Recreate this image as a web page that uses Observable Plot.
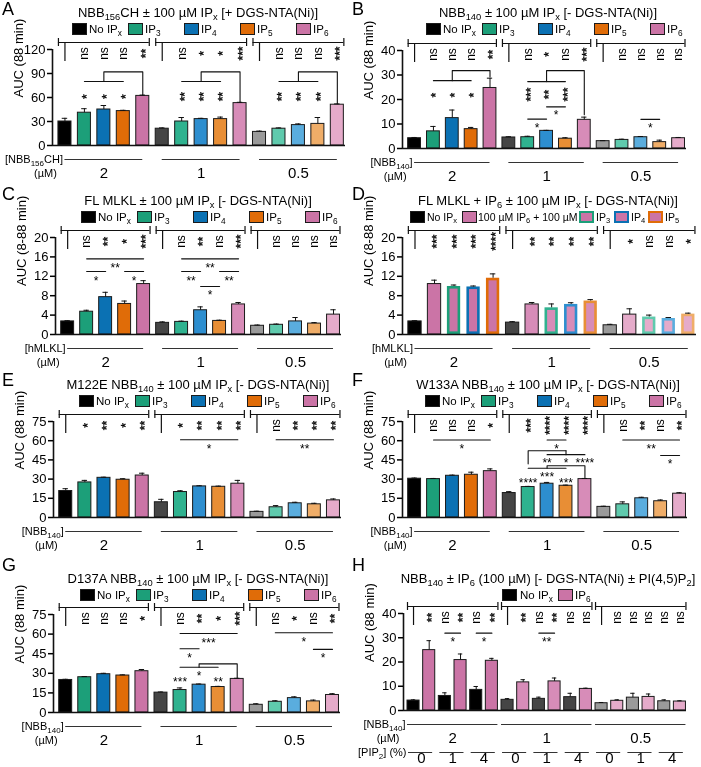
<!DOCTYPE html>
<html>
<head>
<meta charset="utf-8">
<script src="https://cdn.jsdelivr.net/npm/d3@7"></script>
<script src="https://cdn.jsdelivr.net/npm/@observablehq/plot@0.6"></script>
<style>
html,body{margin:0;padding:0;background:#fff;}
body{width:701px;height:767px;position:relative;overflow:hidden;font-family:"Liberation Sans",Arial,Helvetica,sans-serif;color:#000;}
.panel{position:absolute;}
.panel svg{position:absolute;left:0;top:0;overflow:visible;will-change:transform;}
.panel svg text.vs{stroke:#000;stroke-width:0.35px;}
.letter{position:absolute;font-size:18px;line-height:1;}
.title{position:absolute;font-size:13px;line-height:1;white-space:nowrap;transform:translateX(-50%);}
.sw{position:absolute;height:12px;width:15px;box-sizing:border-box;}
.lg{position:absolute;font-size:11.5px;line-height:1;white-space:nowrap;}
sub{font-size:72%;vertical-align:-0.32em;line-height:0;}
</style>
</head>
<body>
<script>
// ---------- shared labels ----------
const concLabels = ["2", "1", "0.5"];
const pipLabels = ["0", "1", "4"];
const ipLegend = ["No IP_{x}", "IP_{3}", "IP_{4}", "IP_{5}", "IP_{6}"];
const yLabel88 = "AUC (88 min)";
const yLabel888 = "AUC (8-88 min)";
const unitLabel = "(µM)";
const pipLabel = "[PIP_{2}] (%)";

// ---------- Panel A ----------
const titleA = "NBB_{156}CH ± 100 µM IP_{x} [+ DGS-NTA(Ni)]";
const concA = "[NBB_{156}CH]";
const yTicksA = [0, 30, 60, 90, 120];
const aucA = [30, 41, 45, 43, 62, 21, 30, 33, 33, 53, 17, 21, 25.5, 27, 51];
const semA = [4, 5, 5, 1, 1, 1, 5, 1, 2.5, 1, 1, 1, 1.5, 8, 1];
const sigA = ["", "ns", "ns", "ns", "**", "", "ns", "*", "*", "***", "", "ns", "ns", "ns", "***"];
const pathsA = [
  [[1, 80], [3, 80]], [[2, 80], [2, 92], [4, 92], [4, 63.5]],
  [[6, 80], [8, 80]], [[7, 80], [7, 92], [9, 92], [9, 54.5]],
  [[11, 80], [13, 80]], [[12, 80], [12, 92], [14, 92], [14, 52.5]]
];
const starsA = [];
const vStarsA = [[1, 61, "*"], [2, 61, "*"], [3, 61, "*"], [6, 61, "**"], [7, 61, "**"], [8, 61, "**"], [11, 61, "**"], [12, 61, "**"], [13, 61, "**"]];

// ---------- Panel B ----------
const titleB = "NBB_{140} ± 100 µM IP_{x} [- DGS-NTA(Ni)]";
const concB = "[NBB_{140}]";
const yTicksB = [0, 10, 20, 30, 40];
const aucB = [4.2, 7, 12.4, 7.9, 24.7, 4.5, 4.6, 7.2, 4, 11.7, 3, 3.5, 4.6, 2.6, 4.2];
const semB = [0.3, 2, 3.3, 0.7, 4, 0.3, 0.4, 0.2, 0.4, 1.1, 0.2, 0.3, 0.3, 0.8, 0.3];
const sigB = ["", "ns", "ns", "ns", "**", "", "ns", "*", "ns", "***", "", "ns", "ns", "ns", "ns"];
const pathsB = [
  [[1, 27.7], [3, 27.7]], [[2, 27.7], [2, 31.8], [4, 31.8], [4, 29.3]],
  [[6, 27.3], [8, 27.3]], [[7, 27.3], [7, 31.8], [9, 31.8], [9, 13.8]],
  [[7, 17], [8, 17]], [[6, 12], [7, 12]], [[12, 11.9], [13, 11.9]]
];
const starsB = [[7.5, 14.7, "*"], [6.5, 9.7, "*"], [12.5, 9.7, "*"]];
const vStarsB = [[1, 21.8, "*"], [2, 21.8, "*"], [3, 21.8, "*"], [6, 22, "***"], [7, 22, "**"], [8, 22, "***"]];

// ---------- Panel C ----------
const titleC = "FL MLKL ± 100 µM IP_{x} [- DGS-NTA(Ni)]";
const concC = "[hMLKL]";
const yTicksC = [0, 4, 8, 12, 16, 20];
const aucC = [2.7, 4.7, 7.7, 6.3, 10.4, 2.4, 2.6, 5.0, 2.8, 6.2, 1.8, 2.0, 2.7, 2.25, 4.1];
const semC = [0.15, 0.3, 1.0, 0.6, 0.7, 0.2, 0.15, 0.7, 0.15, 0.4, 0.15, 0.15, 0.8, 0.2, 1.0];
const sigC = ["", "ns", "**", "*", "***", "", "ns", "**", "ns", "***", "", "ns", "ns", "ns", "ns"];
const pathsC = [
  [[1, 15.6], [4, 15.6]], [[1, 13], [2, 13]], [[3, 13], [4, 13]],
  [[6, 15.6], [9, 15.6]], [[6, 13], [7, 13]], [[8, 13], [9, 13]], [[7, 9.9], [8, 9.9]]
];
const starsC = [[2.5, 14.2, "**"], [1.5, 11.7, "*"], [3.5, 11.7, "*"], [7.5, 14.2, "**"], [6.5, 11.7, "**"], [8.5, 11.7, "**"], [7.5, 8.7, "*"]];

// ---------- Panel D ----------
const titleD = "FL MLKL + IP_{6} ± 100 µM IP_{x} [- DGS-NTA(Ni)]";
const concD = "[hMLKL]";
const yTicksD = [0, 4, 8, 12, 16, 20];
const aucD = [2.7, 10.4, 9.9, 9.8, 11.6, 2.45, 6.2, 5.5, 6.2, 6.9, 1.9, 4.1, 3.6, 3.3, 4.2];
const semD = [0.15, 0.8, 0.3, 0.2, 0.9, 0.2, 0.4, 0.8, 0.35, 0.3, 0.2, 1.2, 0.4, 0.2, 0.2];
const sigD = ["", "***", "***", "***", "****", "", "**", "**", "**", "**", "", "*", "ns", "ns", "*"];
const legendD = ["No IP_{x}", "100 µM IP_{6} + 100 µM", "IP_{3}", "IP_{4}", "IP_{5}"];

// ---------- Panel E ----------
const titleE = "M122E NBB_{140} ± 100 µM IP_{x} [- DGS-NTA(Ni)]";
const yTicksE = [0, 15, 30, 45, 60, 75];
const aucE = [20.7, 27.4, 31, 29.5, 32.8, 11.9, 19.9, 24.3, 24, 26.4, 4.4, 8, 11.1, 10.3, 13.4];
const semE = [1.8, 1.6, 0.5, 0.8, 1.8, 2.3, 1.0, 0.5, 0.5, 2.6, 0.5, 1.3, 0.8, 0.8, 1.1];
const sigE = ["", "*", "**", "*", "**", "", "*", "**", "**", "**", "", "ns", "**", "**", "**"];
const pathsE = [[[6, 60.8], [9, 60.8]], [[11, 60.8], [14, 60.8]]];
const starsE = [[7.5, 56, "*"], [12.5, 56, "**"]];

// ---------- Panel F ----------
const titleF = "W133A NBB_{140} ± 100 µM IP_{x} [- DGS-NTA(Ni)]";
const yTicksF = [0, 15, 30, 45, 60, 75];
const aucF = [30.3, 30, 32.6, 33.4, 36.2, 19.1, 23.8, 26.4, 24.8, 30, 8.3, 10.3, 15, 12.7, 18.6];
const semF = [0.5, 0.5, 0.5, 2, 1.8, 1.1, 0.5, 1.0, 0.5, 0.5, 0.5, 1.9, 0.8, 1.0, 0.8];
const sigF = ["", "ns", "ns", "ns", "*", "", "***", "****", "****", "****", "", "ns", "**", "ns", "**"];
const pathsF = [
  [[1, 60.5], [4, 60.5]], [[7, 60.5], [8, 60.5]],
  [[6, 41.9], [6, 52.2], [8, 52.2]], [[7, 49.1], [9, 49.1]], [[8, 49.1], [8, 52.2]],
  [[6, 38.5], [8, 38.5]], [[7, 38.5], [7, 40.4], [9, 40.4], [9, 31.3]],
  [[11, 60.5], [14, 60.5]], [[13, 48.4], [14, 48.4]]
];
const starsF = [[2.5, 56, "*"], [7.5, 56, "*"], [7, 44.5, "**"], [8, 44.5, "*"], [9, 44.5, "****"],
  [6, 29.5, "****"], [7, 33.6, "***"], [8, 29.5, "***"], [12.5, 56, "**"], [13.5, 43.7, "*"]];

// ---------- Panel G ----------
const titleG = "D137A NBB_{140} ± 100 µM IP_{x} [- DGS-NTA(Ni)]";
const yTicksG = [0, 15, 30, 45, 60, 75];
const aucG = [24.9, 27, 29.3, 28.3, 31.6, 15.2, 17.2, 21.3, 19.5, 25.7, 5.9, 8.2, 11, 8.5, 13.4];
const semG = [0.5, 0.5, 0.7, 0.5, 1.3, 0.5, 1.6, 0.5, 0.5, 0.5, 0.8, 0.8, 1.0, 1.0, 1.0];
const sigG = ["", "ns", "ns", "ns", "*", "", "ns", "**", "*", "***", "", "ns", "*", "ns", "**"];
const pathsG = [
  [[6, 60.5], [9, 60.5]], [[6, 48.8], [7, 48.8]],
  [[6, 34.6], [8, 34.6]], [[7, 34.6], [7, 37.2], [9, 37.2], [9, 26.7]],
  [[11, 61], [14, 61]], [[13, 48.3], [14, 48.3]]
];
const starsG = [[7.5, 55.7, "***"], [6.5, 44.2, "*"], [6, 25.7, "***"], [7, 30, "*"], [8, 25.7, "**"], [12.5, 56, "*"], [13.5, 44, "*"]];

// ---------- Panel H ----------
const titleH = "NBB_{140} ± IP_{6} (100 µM) [- DGS-NTA(Ni) ± PI(4,5)P_{2}]";
const yTicksH = [0, 10, 20, 30, 40];
const aucH = [4.1, 24.9, 6, 20.8, 8.5, 20.5, 4.4, 11.6, 4.8, 12, 5.5, 8.9, 3, 4, 5.3, 5.6, 3.8, 3.7];
const semH = [0.3, 3.9, 1.3, 2.5, 1.4, 1.0, 0.5, 1.1, 0.7, 1.4, 1.6, 0.3, 0.3, 0.4, 1.8, 1.2, 0.6, 0.3];
const sigH = ["", "**", "ns", "**", "ns", "**", "", "**", "ns", "**", "ns", "ns", "", "ns", "ns", "ns", "ns", "ns"];
const pathsH = [[[2, 31.9], [3, 31.9]], [[4, 31.9], [5, 31.9]], [[8, 31.9], [9, 31.9]]];
const starsH = [[2.5, 29.5, "*"], [4.5, 29.5, "*"], [8.5, 29.5, "**"]];
const legendH = ["No IP_{x}", "IP_{6}"];

// ---------- colours (per concentration shade) ----------
const C = {
  ctrl: ["#000000", "#454545", "#9a9a9a"],
  ip3: ["#1c9f79", "#2fb28f", "#5fcaad"],
  ip4: ["#0b71b3", "#2d8ecf", "#5aadde"],
  ip5: ["#e06c08", "#e88e35", "#efad68"],
  ip6: ["#cb74a6", "#d78cb8", "#e5abca"]
};
const DARK = "#1b1b1b";
const ipKeys = ["ctrl", "ip3", "ip4", "ip5", "ip6"];

const lookIP = (g, k) => ({fill: C[ipKeys[k]][g]});
const lookD = (g, k) => k === 0 ? {fill: C.ctrl[g]} : k === 1 ? {fill: C.ip6[g]} : {fill: C.ip6[g], stroke: C[ipKeys[k - 1]][g], thick: true};
const lookH = (g, k) => ({fill: k % 2 ? C.ip6[g] : C.ctrl[g]});

function subHTML(s) { return s.replace(/_\{([^}]*)\}/g, "<sub>$1</sub>"); }
function subSVG(root) {
  for (const t of root.querySelectorAll("text")) {
    const s = t.textContent;
    if (!s.includes("_{")) continue;
    t.textContent = "";
    const parts = s.split(/_\{([^}]*)\}/);
    parts.forEach((part, j) => {
      if (!part) return;
      const ts = document.createElementNS("http://www.w3.org/2000/svg", "tspan");
      ts.textContent = part;
      if (j % 2) { ts.setAttribute("font-size", "8"); ts.setAttribute("dy", "3"); }
      else if (j > 0) ts.setAttribute("dy", "-3");
      t.appendChild(ts);
    });
  }
}

const rowTop = [0, 188, 372, 566];
const rowH = [188, 184, 194, 201];
const letterTop = [0, 185, 371, 556];

const std = (x) => ipLegend.map((t, k) => ({x: x + 56 * k, tx: x + 56 * k + 17, text: t, fill: C[ipKeys[k]][0], stroke: DARK, bw: 1}));

const panels = [
  {id: "A", col: 0, row: 0, ml: 52, mr: 5, top: 49, zero: 145, hw: 0.335, title: titleA, yTicks: yTicksA, yLabel: yLabel88, values: aucA, sem: semA, sig: sigA, paths: pathsA, stars: starsA, vstars: vStarsA, conc: concA, look: lookIP, legend: std(72)},
  {id: "B", col: 1, row: 0, ml: 52, mr: 15, top: 50, zero: 148, hw: 0.34, title: titleB, yTicks: yTicksB, yLabel: yLabel88, values: aucB, sem: semB, sig: sigB, paths: pathsB, stars: starsB, vstars: vStarsB, conc: concB, look: lookIP, legend: std(76)},
  {id: "C", col: 0, row: 1, ml: 55, mr: 9, top: 49, zero: 146, hw: 0.34, title: titleC, yTicks: yTicksC, yLabel: yLabel888, values: aucC, sem: semC, sig: sigC, paths: pathsC, stars: starsC, conc: concC, look: lookIP, legend: std(81)},
  {id: "D", col: 1, row: 1, ml: 52, mr: 5, top: 49, zero: 146, hw: 0.34, title: titleD, yTicks: yTicksD, yLabel: yLabel888, values: aucD, sem: semD, sig: sigD, paths: [], stars: [], conc: concD, look: lookD, legendFont: 10.5,
    legend: [
      {x: 60, tx: 77, text: legendD[0], fill: C.ctrl[0], stroke: DARK, bw: 1},
      {x: 112, tx: 128, text: legendD[1], fill: C.ip6[0], stroke: DARK, bw: 1},
      {x: 229, tx: 246, text: legendD[2], fill: C.ip6[0], stroke: C.ip3[0], bw: 2.5},
      {x: 264, tx: 281, text: legendD[3], fill: C.ip6[0], stroke: C.ip4[0], bw: 2.5},
      {x: 298, tx: 315, text: legendD[4], fill: C.ip6[0], stroke: C.ip5[0], bw: 2.5}
    ]},
  {id: "E", col: 0, row: 2, ml: 53, mr: 9, top: 49, zero: 145, hw: 0.34, title: titleE, yTicks: yTicksE, yLabel: yLabel88, values: aucE, sem: semE, sig: sigE, paths: pathsE, stars: starsE, conc: concB, look: lookIP, legend: std(79)},
  {id: "F", col: 1, row: 2, ml: 52, mr: 14, top: 49, zero: 145, hw: 0.34, title: titleF, yTicks: yTicksF, yLabel: yLabel88, values: aucF, sem: semF, sig: sigF, paths: pathsF, stars: starsF, conc: concB, look: lookIP, legend: std(75)},
  {id: "G", col: 0, row: 3, ml: 53, mr: 10, top: 48, zero: 146, hw: 0.34, title: titleG, yTicks: yTicksG, yLabel: yLabel88, values: aucG, sem: semG, sig: sigG, paths: pathsG, stars: starsG, conc: concB, look: lookIP, legend: std(80)},
  {id: "H", col: 1, row: 3, ml: 53, mr: 15, top: 47, zero: 144, hw: 0.385, title: titleH, yTicks: yTicksH, yLabel: yLabel88, values: aucH, sem: semH, sig: sigH, paths: pathsH, stars: starsH, conc: concB, look: lookH, fullLines: true, pip: true,
    legend: [
      {x: 152, tx: 170, text: legendH[0], fill: C.ctrl[0], stroke: DARK, bw: 1},
      {x: 208, tx: 225, text: legendH[1], fill: C.ip6[0], stroke: DARK, bw: 1}
    ]}
];

function renderPanel(p) {
  const n = p.values.length, per = n / 3, hw = p.hw;
  const M = p.yTicks[p.yTicks.length - 1];
  const u = M / (p.zero - p.top);
  const xs = [-0.64, n - 1 + 0.42];
  const W = p.col === 0 ? 350 : 351;
  const H = rowH[p.row];
  const bars = p.values.map((v, i) => {
    const g = Math.floor(i / per), k = i % per;
    return {i, v, top: v + p.sem[i], g, k, ...p.look(g, k)};
  });
  const groups = [0, 1, 2].map(g => ({a: g * per, b: g * per + per - 1, label: concLabels[g]}));
  const yBr = M + 7 * u;
  const sig = p.sig.map((s, i) => ({i, s})).filter(d => d.s);
  const isStar = s => /^\*+$/.test(s);
  const pts = p.paths.flatMap((path, id) => path.map(([x, y]) => ({x, y, id})));
  const lineA = p.fullLines ? (d => d.a - hw) : (d => d.a);
  const lineB = p.fullLines ? (d => d.b + hw) : (d => d.b);
  const yLine = -14 * u, yLab = -28 * u;
  const ink = "#111";
  const marks = [
    Plot.rect(bars.filter(d => !d.thick), {x1: d => d.i - hw, x2: d => d.i + hw, y1: 0, y2: "v", fill: "fill", stroke: DARK, strokeWidth: 1}),
    Plot.rect(bars.filter(d => d.thick), {x1: d => d.i - hw, x2: d => d.i + hw, y1: 0, y2: "v", fill: "fill", stroke: "stroke", strokeWidth: 2.6, inset: 1.3}),
    Plot.ruleX(bars, {x: "i", y1: "v", y2: "top", stroke: ink, strokeWidth: 1}),
    Plot.ruleY(bars, {y: "top", x1: d => d.i - 0.14, x2: d => d.i + 0.14, stroke: ink, strokeWidth: 1}),
    Plot.ruleY([0], {x1: xs[0], x2: xs[1], stroke: ink, strokeWidth: 1.6}),
    Plot.ruleX([xs[0]], {y1: 0, y2: M, stroke: ink, strokeWidth: 1.6}),
    Plot.axisY(p.yTicks, {tickSize: 5, tickPadding: 2, fontSize: 13, strokeWidth: 1.5, label: null}),
    Plot.text([p.yLabel], {frameAnchor: "left", rotate: -90, dx: -34, fontSize: 13}),
    Plot.ruleY(groups, {y: () => yBr, x1: d => d.a - hw, x2: d => d.b + hw, stroke: ink, strokeWidth: 1.2}),
    Plot.ruleX(groups.flatMap(d => [d.a - hw, d.b + hw]), {x: d => d, y1: yBr - 4 * u, y2: yBr + 4 * u, stroke: ink, strokeWidth: 1.2}),
    Plot.ruleX(groups, {x: "a", y1: yBr, y2: M - 12 * u, stroke: ink, strokeWidth: 1.2}),
    Plot.text(sig.filter(d => !isStar(d.s)), {x: "i", y: () => M - 4 * u, text: "s", rotate: -90, fontSize: 12}),
    Plot.text(sig.filter(d => isStar(d.s)), {x: "i", y: () => M - 4 * u, text: "s", rotate: -90, fontSize: 12, dx: 3, className: "vs"}),
    Plot.line(pts, {x: "x", y: "y", z: "id", stroke: ink, strokeWidth: 1.1}),
    Plot.text(p.stars, {x: d => d[0], y: d => d[1], text: d => d[2], fontSize: 12, dy: 3}),
    Plot.text(p.vstars || [], {x: d => d[0], y: d => d[1], text: d => d[2], fontSize: 12, rotate: -90, dx: 3, className: "vs"}),
    Plot.ruleY(groups, {y: () => yLine, x1: lineA, x2: lineB, stroke: "#333", strokeWidth: 1}),
    Plot.text(groups, {x: d => (d.a + d.b) / 2, y: () => yLab, text: "label", fontSize: 15}),
    Plot.text([p.conc], {x: () => lineA(groups[0]), y: () => yLine, textAnchor: "end", dx: -2, fontSize: 11}),
    Plot.text([unitLabel], {x: () => lineA(groups[0]), y: () => yLab, textAnchor: "end", dx: -8, fontSize: 11})
  ];
  if (p.pip) {
    const pairs = d3.range(9).map(j => ({a: 2 * j, label: pipLabels[j % 3]}));
    marks.push(
      Plot.ruleY(pairs, {y: () => -42 * u, x1: d => d.a - 0.32, x2: d => d.a + 1.22, stroke: "#333", strokeWidth: 1}),
      Plot.text(pairs, {x: d => d.a + 0.5, y: () => -48 * u, text: "label", fontSize: 15}),
      Plot.text([pipLabel], {x: () => -0.32, y: () => -42 * u, textAnchor: "end", dx: -2, fontSize: 11})
    );
  }
  const svg = Plot.plot({
    width: W, height: H,
    marginLeft: p.ml, marginRight: p.mr, marginTop: p.top, marginBottom: H - p.zero,
    x: {domain: xs, axis: null},
    y: {domain: [0, M], axis: null},
    style: {fontFamily: "'Liberation Sans', Arial, sans-serif", fontSize: "13px", color: "#000", background: "transparent", overflow: "visible"},
    marks
  });
  subSVG(svg);
  // mark the rotated star texts so they get a thin outline (keeps them neutral black)
  svg.querySelectorAll("g.vs text, text.vs").forEach(t => t.classList.add("vs"));

  const div = document.createElement("div");
  div.className = "panel";
  div.style.left = (p.col * 350) + "px";
  div.style.top = rowTop[p.row] + "px";
  div.style.width = W + "px";
  div.style.height = H + "px";
  div.appendChild(svg);

  const title = document.createElement("div");
  title.className = "title";
  title.style.left = "198px";
  title.style.top = "5.5px";
  title.innerHTML = subHTML(p.title);
  div.appendChild(title);

  for (const it of p.legend) {
    const sw = document.createElement("div");
    sw.className = "sw";
    sw.style.left = it.x + "px";
    sw.style.top = "23px";
    sw.style.background = it.fill;
    sw.style.border = it.bw + "px solid " + it.stroke;
    div.appendChild(sw);
    const lg = document.createElement("div");
    lg.className = "lg";
    lg.style.left = it.tx + "px";
    lg.style.top = "23.5px";
    if (p.legendFont) lg.style.fontSize = p.legendFont + "px";
    lg.innerHTML = subHTML(it.text);
    div.appendChild(lg);
  }
  document.body.appendChild(div);

  const letter = document.createElement("div");
  letter.className = "letter";
  letter.style.left = (p.col * 350 + 2) + "px";
  letter.style.top = letterTop[p.row] + "px";
  letter.textContent = p.id;
  document.body.appendChild(letter);
}

panels.forEach(renderPanel);
</script>
</body>
</html>
